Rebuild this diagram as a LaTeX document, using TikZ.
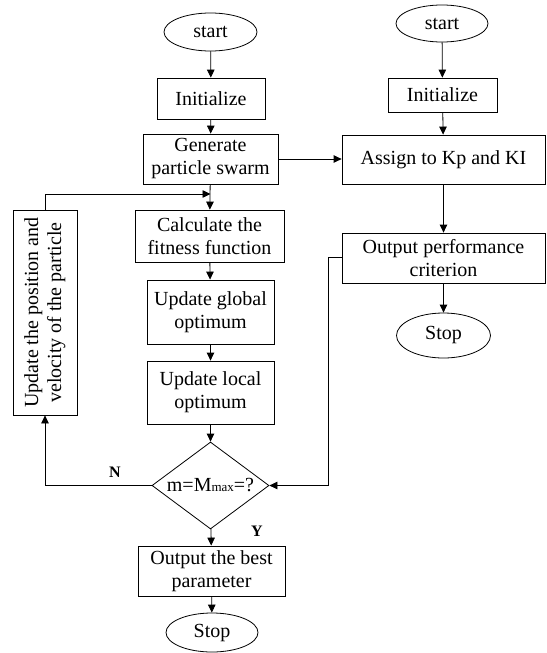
\documentclass[tikz,border=0pt]{standalone}
\usepackage{fontspec}
\setmainfont{Liberation Serif}
\usetikzlibrary{shapes.geometric,arrows.meta}
\tikzset{
  base/.style={draw, line width=0.8pt, inner sep=0pt, align=center, font=\fontsize{20}{23}\selectfont},
  proc/.style={base, rectangle},
  term/.style={base, ellipse},
  dec/.style={base, diamond},
  conn/.style={line width=0.8pt, -{Triangle[length=8pt,width=7.5pt]}},
  lab/.style={font=\fontsize{16}{16}\selectfont\bfseries}
}
\begin{document}
\begin{tikzpicture}[x=1pt,y=-1pt]
\useasboundingbox (0,0) rectangle (546,653);
% left column
\node[term, minimum width=93pt, minimum height=38pt] (startL) at (210.5,32) {start};
\node[proc, minimum width=108pt, minimum height=41pt] (initL) at (211,98.5) {Initialize};
\node[proc, minimum width=135pt, minimum height=50pt] (gen) at (210.5,159) {Generate\\particle swarm};
\node[proc, minimum width=149pt, minimum height=52pt] (calc) at (209.5,236) {Calculate the\\fitness function};
\node[proc, minimum width=127pt, minimum height=64pt] (glob) at (210.5,312) {Update global\\optimum};
\node[proc, minimum width=127pt, minimum height=63pt] (loc) at (210.5,392.5) {Update local\\optimum};
\node[dec, minimum width=117pt, minimum height=87pt, shape aspect=1.345] (dec) at (210.5,485.5) {m=M{\fontsize{13}{13}\selectfont max}=?};
\node[proc, minimum width=147pt, minimum height=50pt] (best) at (211.5,571) {Output the best\\parameter};
\node[term, minimum width=92pt, minimum height=39pt] (stopL) at (212,632.5) {Stop};
\node[proc, minimum width=64pt, minimum height=205pt] (upd) at (45,312.5) {\rotatebox{90}{\begin{tabular}{@{}c@{}}Update the position and\\velocity of the particle\end{tabular}}};
% right column
\node[term, minimum width=92pt, minimum height=37pt] (startR) at (442,23.5) {start};
\node[proc, minimum width=109pt, minimum height=34pt] (initR) at (442.5,95) {Initialize};
\node[proc, minimum width=203pt, minimum height=49pt] (assign) at (443.5,159.5) {Assign to Kp and KI};
\node[proc, minimum width=203pt, minimum height=50pt] (perf) at (443.5,258) {Output performance\\criterion};
\node[term, minimum width=94pt, minimum height=45pt] (stopR) at (443.5,335.5) {Stop};
% labels
\node[lab] (lN) at (115,472) {N};
\node[lab] (lY) at (257,531) {Y};
% coordinates
\coordinate (loopj) at (210.5,194);
\coordinate (fbx) at (328,257);
% connectors left
\draw[conn] (startL) -- (initL);
\draw[conn] (initL) -- (gen);
\draw[conn] (gen) -- (calc);
\draw[conn] (calc) -- (glob);
\draw[conn] (glob) -- (loc);
\draw[conn] (loc) -- (dec);
\draw[conn] (dec) -- (best);
\draw[conn] (best) -- (stopL);
\draw[conn] (dec.west) -| (upd.south);
\draw[conn] (upd.north) |- (loopj);
\draw[conn] (gen.east) -- (assign.west |- gen.east);
% connectors right
\draw[conn] (startR) -- (initR);
\draw[conn] (initR) -- (assign);
\draw[conn] (assign) -- (perf);
\draw[conn] (perf) -- (stopR);
\draw[conn] (perf.west |- fbx) -- (fbx) |- (dec.east);
\end{tikzpicture}
\end{document}
